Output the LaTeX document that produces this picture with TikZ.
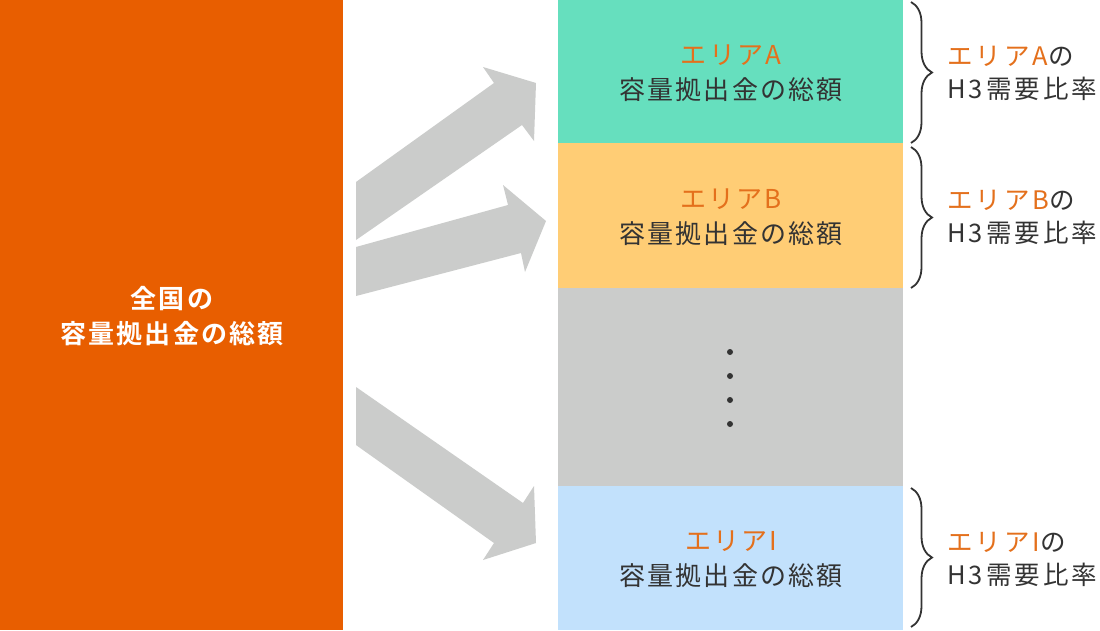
\documentclass[tikz,border=0pt]{standalone}
\usepackage{fontspec}
\usetikzlibrary{decorations.pathreplacing}
\newfontfamily\jpfont[LetterSpace=8,BoldFont={Noto Sans CJK JP Bold}]{Noto Sans CJK JP}
\newfontfamily\jpside[LetterSpace=12]{Noto Sans CJK JP}
\definecolor{cOrange}{HTML}{E85E00}
\definecolor{cGreen}{HTML}{66DFBE}
\definecolor{cYellow}{HTML}{FFCD75}
\definecolor{cGray}{HTML}{CBCCCB}
\definecolor{cBlue}{HTML}{C2E1FC}
\definecolor{cText}{HTML}{333333}
\definecolor{cLabel}{HTML}{E4701C}
\tikzset{
  boxtxt/.style={font=\jpfont\fontsize{26}{35}\selectfont, text=cText, align=center, inner sep=0pt},
  sidetxt/.style={font=\jpside\fontsize{25.5}{33}\selectfont, text=cText, align=left, inner sep=0pt, anchor=west},
  bigarrow/.style={fill=cGray, draw=none},
  bracestyle/.style={draw=cText, line width=1.8pt, decorate, decoration={brace, amplitude=21pt}},
}
\begin{document}
\begin{tikzpicture}[x=1pt,y=-1pt]
\useasboundingbox (0,0) rectangle (1100,630);
\fill[white] (0,0) rectangle (1100,630);
% left panel
\fill[cOrange] (0,0) rectangle (343,630);
\node[font=\jpfont\bfseries\fontsize{26}{35}\selectfont, text=white, align=center, inner sep=0pt] (total) at (172,316) {全国の\\容量拠出金の総額};
% right panels
\fill[cGreen] (558,0) rectangle (903,143);
\fill[cYellow] (558,143) rectangle (903,288);
\fill[cGray] (558,288) rectangle (903,486);
\fill[cBlue] (558,486) rectangle (903,630);
\node[boxtxt] (ta) at (731,73) {\textcolor{cLabel}{エリアA}\\容量拠出金の総額};
\node[boxtxt] (tb) at (731,217) {\textcolor{cLabel}{エリアB}\\容量拠出金の総額};
\node[boxtxt] (ti) at (731,559) {\textcolor{cLabel}{エリアI}\\容量拠出金の総額};
% dots
\foreach \yy [count=\i] in {352,376,400,424} \fill[cText] (730,\yy) circle (3pt) coordinate (dot\i);
% arrows
\fill[bigarrow] (356,240) -- (356,182) -- (494,83) -- (483,67) -- (536,83) -- (534,141) -- (522,125) -- cycle;
\fill[bigarrow] (356,247) -- (508,205) -- (503,185) -- (546,221) -- (525,272) -- (521,253) -- (356,296) -- cycle;
\fill[bigarrow] (356,387) -- (523,503) -- (534,486) -- (536,543) -- (483,560) -- (494,543) -- (356,445) -- cycle;
% braces
\coordinate (b1t) at (911,2); \coordinate (b1b) at (911,143);
\coordinate (b2t) at (911,147); \coordinate (b2b) at (911,288);
\coordinate (b3t) at (911,488); \coordinate (b3b) at (911,627);
\draw[bracestyle] (b1t) -- (b1b);
\draw[bracestyle] (b2t) -- (b2b);
\draw[bracestyle] (b3t) -- (b3b);
% side labels
\node[sidetxt] (la) at (947,73) {\textcolor{cLabel}{エリアA}の\\H3需要比率};
\node[sidetxt] (lb) at (947,217) {\textcolor{cLabel}{エリアB}の\\H3需要比率};
\node[sidetxt] (li) at (947,559) {\textcolor{cLabel}{エリアI}の\\H3需要比率};
\end{tikzpicture}
\end{document}
